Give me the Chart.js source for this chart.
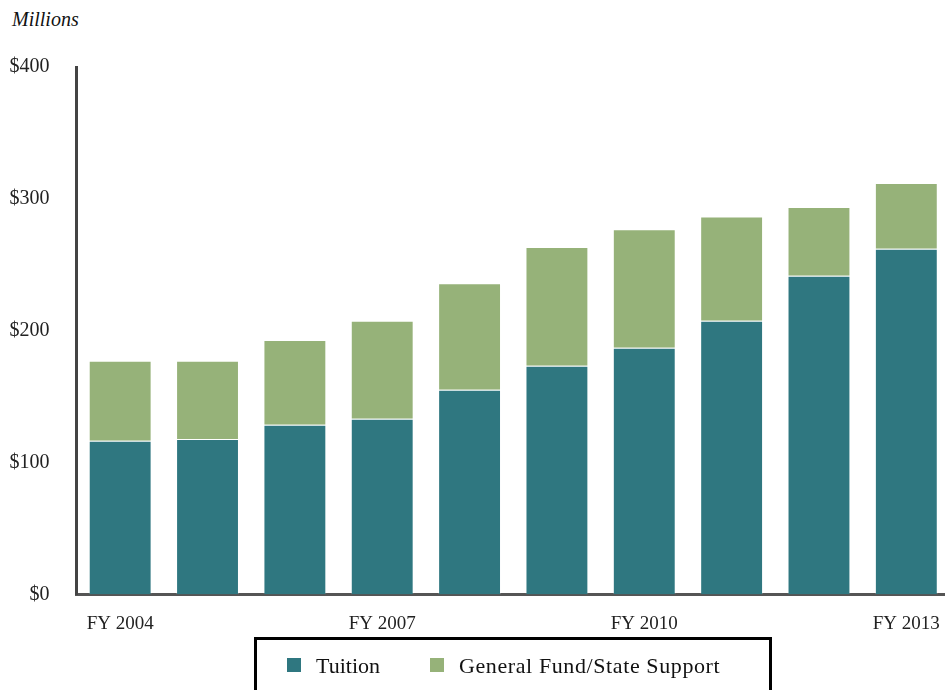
<!DOCTYPE html>
<html>
<head>
<meta charset="utf-8">
<script src="https://cdn.jsdelivr.net/npm/chart.js@4"></script>
<style>
    body { margin: 0; overflow: hidden; background: #fff; font-family: "Liberation Serif", serif; }
    #wrap { position: relative; width: 945px; height: 690px; overflow: hidden; }
    #myChart { position: absolute; left: 0; top: 0; }
    #units { position: absolute; left: 12px; top: 8px; font-style: italic; font-size: 20px; color: #111; }
    #legend { position: absolute; left: 254px; top: 637px; width: 512px; height: 60px; border: 3px solid #000; }
    .item { position: absolute; top: 13px; font-size: 22px; color: #111; white-space: nowrap; }
    .swatch { display: inline-block; width: 14px; height: 14px; margin-right: 15px; vertical-align: 1px; }
</style>
</head>
<body>
<div id="wrap">
    <div id="units">Millions</div>
    <canvas id="myChart" width="952" height="640"></canvas>
    <div id="legend">
        <div class="item" style="left:30px"><span class="swatch" style="background:#2F7780"></span>Tuition</div>
        <div class="item" style="left:173px; letter-spacing:0.6px"><span class="swatch" style="background:#96B279"></span>General Fund/State Support</div>
    </div>
</div>
<script>
// DATA
    const years = ['FY 2004', 'FY 2005', 'FY 2006', 'FY 2007', 'FY 2008', 'FY 2009', 'FY 2010', 'FY 2011', 'FY 2012', 'FY 2013'];
    const tuition = [116.6, 117.9, 128.7, 133.3, 155.2, 173.5, 187.1, 207.6, 241.7, 262.2];
    const generalFund = [60.7, 59.4, 64.3, 74.3, 80.8, 90.0, 89.8, 79.1, 52.1, 49.8];
    const yTicks = [0, 100, 200, 300, 400];
// DATA

// CHART
    function drawChart(){
        const ctx = document.getElementById('myChart').getContext('2d');
        new Chart(ctx, {
            type: 'bar',
            data: {
                labels: years,
                datasets: [{
                    label: 'Tuition',
                    data: tuition,
                    backgroundColor: '#2F7780',
                    borderColor: 'rgba(255,255,255,0.2)',
                    borderWidth: 1
                }, {
                    label: 'General Fund/State Support',
                    data: generalFund,
                    backgroundColor: '#96B279',
                    borderColor: 'rgba(255,255,255,0.3)',
                    borderWidth: 1
                }]
            },
            options: {
                responsive: false,
                animation: false,
                layout: { padding: { top: 67, right: 2, left: 0, bottom: 0 } },
                plugins: {
                    legend: { display: false },
                    tooltip: { enabled: false }
                },
                scales: {
                    x: {
                        stacked: true,
                        categoryPercentage: 1,
                        barPercentage: 0.775,
                        grid: { display: false },
                        border: { display: true, color: '#555', width: 3 },
                        ticks: {
                            autoSkip: false,
                            maxRotation: 0,
                            padding: 10,
                            color: '#222',
                            font: { family: 'Liberation Serif', size: 19 },
                            callback: function(v, i){ return i % 3 === 0 ? years[i] : ''; }
                        },
                        afterFit: function(s){ s.height = 45.5; }
                    },
                    y: {
                        stacked: true,
                        min: yTicks[0],
                        max: yTicks[yTicks.length - 1],
                        afterBuildTicks: function(s){ s.ticks = yTicks.map(function(v){ return { value: v }; }); },
                        grid: { display: false },
                        border: { display: true, color: '#444', width: 3 },
                        ticks: {
                            padding: 19,
                            color: '#222',
                            font: { family: 'Liberation Serif', size: 20 },
                            callback: function(v){ return '$' + v; }
                        },
                        afterFit: function(s){ s.width = 76.5; }
                    }
                }
            }
        });
    }
    drawChart();
// CHART
</script>
</body>
</html>
